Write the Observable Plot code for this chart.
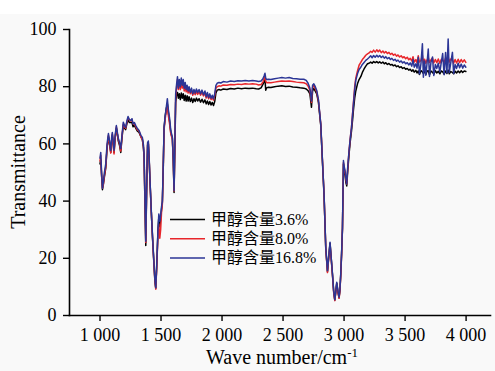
<!DOCTYPE html>
<html><head><meta charset="utf-8">
<script src="https://cdn.jsdelivr.net/npm/d3@7"></script>
<script src="https://cdn.jsdelivr.net/npm/@observablehq/plot@0.6"></script>
<style>
body{margin:0;background:#fff;}
#chart{position:relative;width:495px;height:371px;background:linear-gradient(#fff 0,#fff 14px,#f9f9f9 14px);}
</style></head><body><div id="chart"></div>
<script>
const wavenumber = [
1000,1006,1013,1020,1028,1036,1047,1058,1069,1078,1088,1095,1101,1108,1115,1124,1134,1142,1150,1160,
1170,1180,1191,1200,1210,1220,1230,1240,1252,1262,1271,1282,1293,1305,1320,1335,1347,1355,1361,1368,
1375,1382,1390,1396,1402,1410,1420,1430,1440,1450,1457,1465,1475,1482,1490,1497,1504,1511,1518,1525,
1535,1544,1552,1560,1570,1580,1593,1600,1607,1614,1620,
1628,1635,1642,1650,1658,1666,1674,1682,1690,1698,1706,1714,1722,1730,1740,1750,1760,1770,1780,1790,
1800,1812,1824,1836,1848,1860,1870,1880,1890,1900,1910,1920,1930,1940,1950,1960,1975,1990,
2010,2040,2070,2100,2130,2160,2190,2220,2250,2280,2300,2320,2335,2345,2352,2358,2365,2380,2400,2430,
2460,2490,2520,2550,2580,2610,2640,2670,2690,2705,2720,2733,2742,2752,2762,2776,2790,2809,2822,2836,
2850,2864,2875,2885,2895,2905,2915,2924,2932,2940,2950,2959,2966,2973,2980,2987,2995,3001,3008,3015,
3022,3030,3041,3051,3061,3070,3077,3087,3096,3110,3123,3137,3150,3164,3178,3192,
3205,3218,3230,3242,3255,3268,3280,3292,3305,3318,3330,3342,3355,3368,3380,3392,3405,3418,3430,3442,
3455,3468,3480,3492,3505,3518,3530,3542,3555,3565,3575,3588,3598,3608,3618,3630,3642,3650,3660,3670,
3680,3690,3700,3712,3725,3735,3748,3760,3772,3785,3797,3808,3820,3832,3843,3853,3862,3875,3888,3898,
3910,3922,3935,3947,3960,3972,3985,3998
];
// 甲醇含量 3.6 % (black)
const t36 = [
53,54.5,49,44,46,48.5,51.5,58.5,62.5,60,57,61,63,60,57,62,65.5,63.5,61,59.5,
57,62,66.5,65.5,65,67,68.5,67.5,67.5,67.5,66,66.5,65.5,64.5,64,62.5,61.5,59,55.5,40,
24.5,43,59.5,60,55.5,46.5,36.5,27.5,19.5,12,9.5,17.5,29.5,34.5,31,34,37,39.5,51,65.5,
70,72.5,74,71,68,64,62,54.5,43,60,74.5,
77.5,78,76,77.5,75.5,77.8,76,77.5,75.2,77,75,76.8,75,76.5,74.8,76,74.5,75.8,74.8,76,
75,75.8,74.6,75.6,74.4,75.4,74,75,73.8,74.8,73.6,74.5,73.4,74.8,77.8,78.8,79,78.8,
79.2,79,79.4,79.2,79.5,79.3,79.5,79.4,79.5,79.3,79.2,79.6,80.8,81.8,82.5,78.8,79.6,79.8,79.7,80,
80.2,80.3,80.1,80.2,79.9,79.8,79.6,79.5,79.2,78.6,77.5,72.8,78.5,79.4,78.6,77.5,74.5,66.5,54.5,42,
23.5,15.3,20.7,25.3,19.8,14.3,8.3,5.4,8.2,11.3,8.3,6.2,8.8,14.5,21.8,30.5,53,50.5,49,46.5,
45.3,50.5,56.5,61,64.5,68.5,72,76,78.5,81,82.5,83.5,85,86.2,87.2,88,
88.2,88.6,88.2,88.8,88.4,88.8,88.3,88.7,88.2,88.6,88,88.4,87.8,88.1,87.6,87.8,87.3,87.6,87,87.3,
86.7,87,86.4,86.7,86.1,86.4,85.8,86.1,85.4,85.9,85.1,85.7,84.8,85.5,84.3,85.6,85.2,84.6,85.5,84.3,
85.4,85.6,84.2,85.5,85,84.4,85.6,84.8,85.4,84.5,85.5,85.2,84.4,85.5,84.6,85.8,84.5,85.3,85,84.5,
85.4,84.8,85.5,84.9,85.6,85,85.5,85.3
];
// 甲醇含量 8.0 % (red)
const t80 = [
54,56,49,44.5,46,49,52,59,63,60,56.8,61,63.5,60,56.5,62,66,63.5,61.5,60,
57.5,62.5,67,66,65.5,67.5,69,68.5,68,68.5,67,67,66,65,64.5,62.5,61.5,59.5,56,41,
25.5,44,60,60.5,55.5,46.5,36.5,27.5,19.5,12,9.2,17,28.5,32,27,30,36,39,51,65,
69,71.5,73,70,67,63.5,61.5,54.5,43.5,61,76,
80,82.5,79,81.5,79,82,79.5,81.5,78.5,80.5,78.2,79.5,77.8,79.2,77.5,78.6,77,78.2,77.2,78.4,
77.3,78.2,77,78,76.8,77.8,76,77.3,75.8,76.8,75.5,76.3,75.3,76.8,79.5,80,80.3,80.2,
80.6,80.5,80.8,80.7,80.9,80.8,81,80.9,81,80.9,80.6,80.8,81.6,82.8,83.6,82,81.4,81.5,81.4,81.6,
81.8,82,81.9,82,81.8,81.6,81.5,81.4,81,80.2,78.8,74.5,79.8,80.4,79.6,78.2,75,67,55,42.3,
23.5,15,20.5,25,19.5,14,8,5.2,8,11,8,6,8.5,14,21.5,30.5,53.5,51.5,50,47.5,
46,51.5,57.5,62,65.8,70.8,74.5,80,83,85.5,87.5,88.5,89.5,90.2,91,91.5,
91.8,92.4,92,92.8,92.1,92.9,92.2,92.8,91.9,92.5,91.8,92.3,91.6,92,91.3,91.7,91,91.4,90.7,91.1,
90.4,90.8,90.1,90.5,89.8,90.3,89.4,89.9,89,90.5,88.6,89.5,88.3,90.8,88.6,89.2,91,88.4,89.6,88.2,
89.3,90.2,88.5,89.4,90,88.3,89.5,88.4,89.7,88.2,89.6,89.2,88.5,90,88.3,90.5,88.6,89.7,89.4,88.2,
89.5,88.3,89.6,88.4,89.5,88.6,89.4,88.5
];
// 甲醇含量 16.8 % (blue)
const t168 = [
55,57,50,44.5,47,50,53,60,63.6,61,57.7,62,64,61,57.7,63,66.4,64,62,60.5,
58.4,63,67.6,66.5,65.8,68,69.6,68.5,68.2,68.8,67,67.5,66.4,65.5,64.7,63,62.3,60,56.6,42,
26,45,60.5,61,56,47,37,28,20,12.5,9.7,18,30,35.5,33,35,38,40,52,65.8,
70,73,75.8,72,69,64.7,62.3,55,43.7,62,77.5,
81,83.5,79.5,82.5,80,83,80.5,82.5,79.5,81.5,79,80.5,78.5,80,78,79.5,77.5,79,77.8,79.2,
78,79,77.5,78.8,77.2,78.5,76.5,78,76.2,77.5,76,77,75.8,77.5,80.5,81.2,81.5,81.3,
81.8,81.6,82,81.8,82.1,82,82.2,82,82.2,82,81.8,82,82.8,83.8,84.7,83,82.5,82.6,82.5,82.8,
83,83.2,83,83.2,82.9,82.8,82.6,82.6,82.2,81.2,79.5,75,80.5,81,80.2,78.7,75.5,67,55,42.5,
23.9,15.7,21,25.6,20,14.6,8.5,5.5,8.5,11.6,8.5,6.4,9,14.7,22,30.9,54.2,52,50.7,48,
46,52,57.7,62,65.8,70.5,74,79,82.2,84.5,86,86.8,87.8,88.5,89.2,89.7,
90.2,90.8,90.1,90.9,90.3,91,90.4,90.9,90.2,90.7,90,90.5,89.8,90.2,89.5,89.9,89.2,89.6,88.9,89.3,
88.6,89,88.3,88.7,88,88.4,87.6,88.3,87.2,89.5,86.8,88,86.5,90.3,84.5,88,95,83.3,89,84,
88.2,93.2,83.6,88.5,90.4,83.9,87.8,86.4,88.2,85.2,88.6,91.6,84.2,92,84.8,96.7,85,88.5,92,84.6,
87.8,86.4,88.2,86.6,87.9,86.5,87.6,86.8
];
const seriesNames = ["甲醇含量3.6%", "甲醇含量8.0%", "甲醇含量16.8%"];
const seriesColors = ["#000000", "#e8262b", "#2b3596"];
const xTicks = [1000, 1500, 2000, 2500, 3000, 3500, 4000];
const yTicks = [0, 20, 40, 60, 80, 100];
const xTitle = "Wave number/cm";
const xTitleSup = "-1";
const yTitle = "Transmittance";

const rows = [];
[t36, t80, t168].forEach((arr, si) => arr.forEach((v, i) => rows.push({wn: wavenumber[i], t: v, s: seriesNames[si]})));

const fmt = d3.formatLocale({thousands: " ", grouping: [3], decimal: ".", currency: ["", ""]}).format(",");
const serif = "'Liberation Serif', 'Times New Roman', serif";

const plot = Plot.plot({
  width: 495, height: 371,
  marginLeft: 69, marginRight: 5, marginTop: 29, marginBottom: 56,
  style: {fontFamily: serif, fontSize: "18px", background: "transparent", color: "#000", overflow: "visible"},
  x: {domain: [750, 4200]},
  y: {domain: [0, 100]},
  color: {domain: seriesNames, range: seriesColors},
  marks: [
    Plot.frame({anchor: "left", stroke: "#000", strokeWidth: 1.6}),
    Plot.frame({anchor: "bottom", stroke: "#000", strokeWidth: 1.6}),
    Plot.axisX({ticks: xTicks, tickFormat: fmt, tickSize: 6, tickPadding: 7, label: null, fontSize: 18, strokeWidth: 1.4}),
    Plot.axisY({ticks: yTicks, tickSize: 6, tickPadding: 7, label: null, fontSize: 18, strokeWidth: 1.4}),
    Plot.line(rows, {x: "wn", y: "t", z: "s", stroke: "s", strokeWidth: 1.5, curve: "linear"})
  ]
});
document.getElementById("chart").appendChild(plot);

const svg = d3.select(plot);
// axis titles
svg.append("text")
  .attr("transform", "translate(18,172) rotate(-90)")
  .attr("text-anchor", "middle").attr("dominant-baseline", "central")
  .style("font-family", serif).style("font-size", "20px").attr("fill", "#000")
  .text(yTitle);
const xt = svg.append("text")
  .attr("x", 282).attr("y", 364).attr("text-anchor", "middle")
  .style("font-family", serif).style("font-size", "20px").attr("fill", "#000");
xt.append("tspan").text(xTitle);
xt.append("tspan").attr("dy", -7).style("font-size", "13px").text(xTitleSup);

// legend
const lg = svg.append("g");
seriesNames.forEach((name, i) => {
  const y = 219.5 + i * 19.2;
  lg.append("line").attr("x1", 170).attr("x2", 205).attr("y1", y).attr("y2", y)
    .style("stroke", seriesColors[i]).style("stroke-width", "1.5px");
  lg.append("text").attr("x", 211).attr("y", y).attr("dominant-baseline", "central")
    .attr("text-anchor", "start")
    .style("font-family", "'Liberation Serif', 'Noto Sans CJK SC', serif").style("font-size", "16px")
    .attr("fill", "#000").text(name);
});
</script></body></html>
